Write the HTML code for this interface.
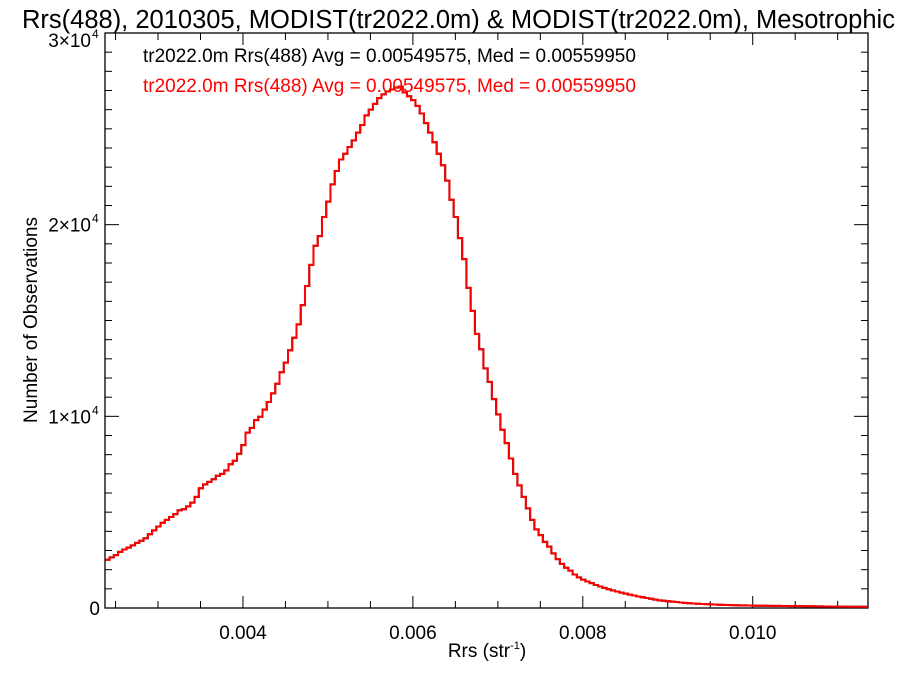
<!DOCTYPE html>
<html><head><meta charset="utf-8">
<style>
html,body{margin:0;padding:0;background:#fff;}
svg{display:block;font-family:"Liberation Sans",Arial,sans-serif;}
</style></head>
<body>
<svg id="chart" width="900" height="675" viewBox="0 0 900 675">
<text x="22" y="28" font-size="25.5" fill="#000">Rrs(488), 2010305, MODIST(tr2022.0m) &amp; MODIST(tr2022.0m), Mesotrophic</text>
<g id="axes"></g>
<g id="series"></g>
<text x="143" y="62" font-size="19" fill="#000">tr2022.0m Rrs(488) Avg = 0.00549575, Med = 0.00559950</text>
<text x="143" y="92" font-size="19" fill="#ff0000">tr2022.0m Rrs(488) Avg = 0.00549575, Med = 0.00559950</text>
<text x="487" y="657" font-size="19" text-anchor="middle">Rrs (str<tspan dy="-8" font-size="11">-1</tspan><tspan dy="8">)</tspan></text>
<text transform="translate(37,320) rotate(-90)" font-size="19" text-anchor="middle">Number of Observations</text>
</svg>
<script>
const binStart = 0.00238;
const binWidth = 0.00005;
const counts = [
2520,2640,2760,2930,3050,3150,3270,3400,3510,3640,
3850,4050,4250,4450,4600,4750,4900,5100,5150,5300,
5500,5800,6250,6450,6580,6720,6900,7000,7180,7500,
7680,8050,8500,9150,9400,9800,9980,10350,10750,11200,
11700,12300,12800,13450,14100,14800,15800,16800,17900,18900,
19400,20400,21200,22100,22800,23400,23700,24050,24400,24800,
25200,25700,26000,26300,26600,26800,26950,27050,27150,27200,
26900,26700,26500,26200,25800,25300,24800,24300,23700,23100,
22300,21300,20400,19300,18200,16700,15500,14300,13500,12500,
11800,10900,10100,9300,8600,7800,7000,6400,5800,5200,
4600,4100,3800,3450,3200,2850,2550,2300,2100,1950,
1750,1600,1480,1380,1300,1200,1120,1050,980,920,
860,800,750,700,650,600,560,520,480,440,
400,380,350,330,310,290,270,250,235,220,
210,200,190,180,170,160,155,150,145,140,
135,130,125,120,118,115,112,110,108,105,
102,100,98,95,92,90,88,85,82,80,
78,76,74,72,70,68,66,65,64,62];
const xTickValues = [0.004, 0.006, 0.008, 0.010];
const xTickLabels = ["0.004", "0.006", "0.008", "0.010"];
const yTickValues = [0, 10000, 20000, 30000];
const yTickLabels = ["0", "1\u00d710", "2\u00d710", "3\u00d710"];

const L = 105, R = 868, T = 33, B = 608;
const xMin = 0.002376, xMax = 0.011357, yMin = 0, yMax = 30000;
function xs(v){ return L + (v - xMin) / (xMax - xMin) * (R - L); }
function ys(v){ return B - (v - yMin) / (yMax - yMin) * (B - T); }
const NS = "http://www.w3.org/2000/svg";
const axes = document.getElementById('axes');
const series = document.getElementById('series');
function mk(tag, attrs, parent){ const e = document.createElementNS(NS, tag); for (const k in attrs) e.setAttribute(k, attrs[k]); parent.appendChild(e); return e; }

const frame = mk('rect', {x:L, y:T, width:R-L, height:B-T, fill:'none', stroke:'#000', 'stroke-width':1.3}, axes);



for (let v = 0.0025; v < xMax; v += 0.0005) {
  const major = xTickValues.some(t => Math.abs(t - v) < 1e-9);
  const len = major ? 12 : 7;
  const x = xs(v);
  const t1 = mk('line', {x1:x, x2:x, y1:B, y2:B-len, stroke:'#000', 'stroke-width':1}, axes);
  
  
  const t2 = mk('line', {x1:x, x2:x, y1:T, y2:T+len, stroke:'#000', 'stroke-width':1}, axes);
  
  
}
xTickValues.forEach((v, i) => {
  const t = mk('text', {x:xs(v), y:639, 'font-size':19, 'text-anchor':'middle'}, axes);
  t.textContent = xTickLabels[i];
  
  
});
for (let v = 1000; v < yMax; v += 1000) {
  const major = v % 10000 === 0;
  const len = major ? 14 : 7;
  const y = ys(v);
  const t1 = mk('line', {x1:L, x2:L+len, y1:y, y2:y, stroke:'#000', 'stroke-width':1}, axes);
  
  
  const t2 = mk('line', {x1:R, x2:R-len, y1:y, y2:y, stroke:'#000', 'stroke-width':1}, axes);
  
  
}
yTickValues.forEach((v, i) => {
  const yy = v === 30000 ? ys(v) + 14 : ys(v) + 7;
  const t = mk('text', {x:v === 0 ? 100 : 91, y:yy, 'font-size':19, 'text-anchor':'end'}, axes);
  t.textContent = yTickLabels[i];
  
  
  if (v !== 0) {
    const s = mk('text', {x:92, y:yy - 9, 'font-size':12}, axes);
    s.textContent = '4';
    
    
  }
});

function stepPath(){
  let d = '';
  counts.forEach((c, i) => {
    const x0 = Math.max(L, xs(binStart + i * binWidth));
    const x1 = Math.min(R, xs(binStart + (i + 1) * binWidth));
    const y = ys(c);
    d += (i === 0 ? 'M' : 'L') + x0.toFixed(2) + ',' + y.toFixed(2) + 'L' + x1.toFixed(2) + ',' + y.toFixed(2);
  });
  return d;
}
const clip = mk('clipPath', {id:'pc'}, series);
mk('rect', {x:L, y:T, width:R-L, height:B-T}, clip);
const blk = mk('path', {d:stepPath(), fill:'none', stroke:'#000', 'stroke-width':2, 'clip-path':'url(#pc)'}, series);


const red = mk('path', {d:stepPath(), fill:'none', stroke:'#ff0000', 'stroke-width':2, 'clip-path':'url(#pc)'}, series);


</script>
</body></html>
